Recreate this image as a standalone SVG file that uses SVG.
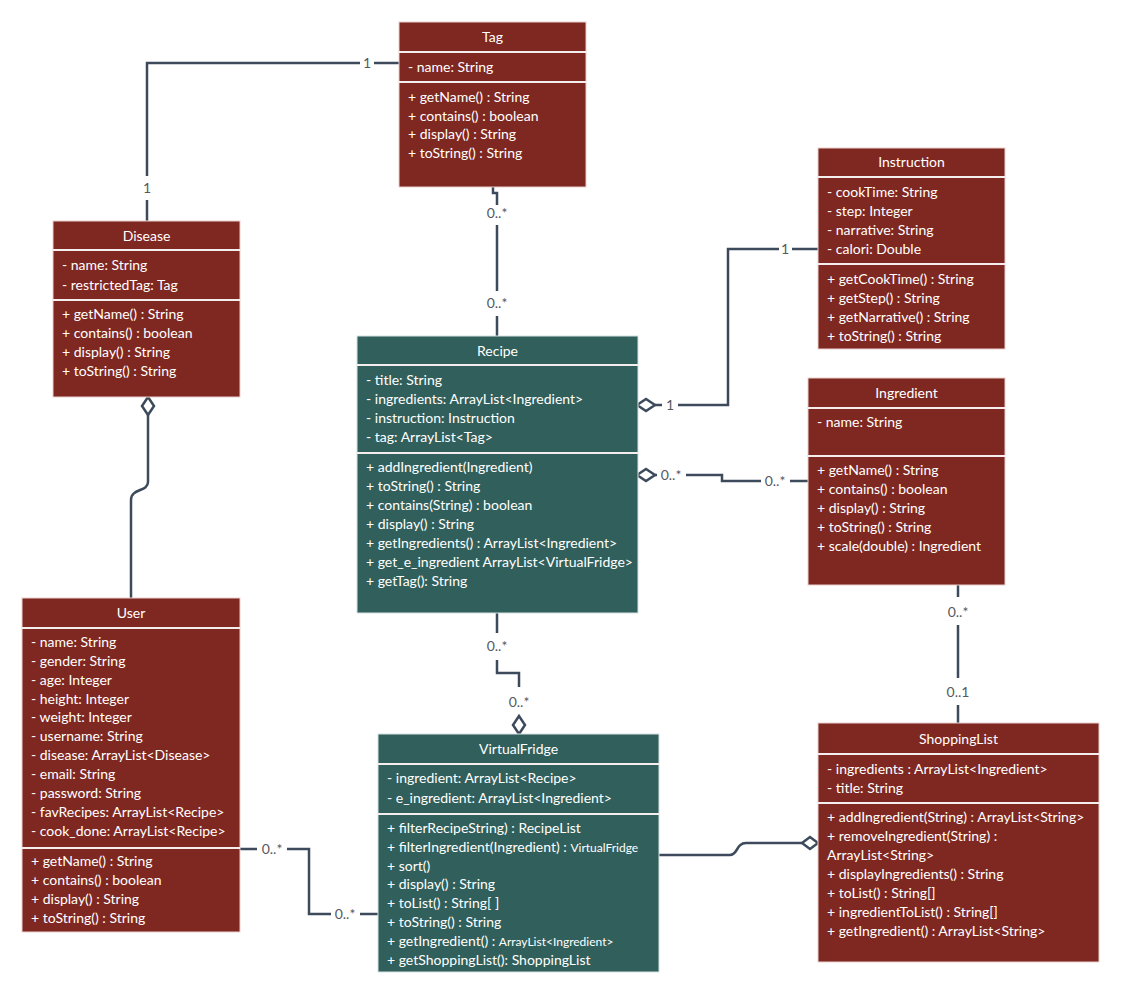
<svg xmlns="http://www.w3.org/2000/svg" width="1121" height="996" viewBox="0 0 1121 996">
  <style>
    .red { fill: #7f2821; stroke: #e9cfcc; stroke-width: 1; }
    .teal { fill: #31605c; stroke: #d5e2e0; stroke-width: 1; }
    .sep { stroke: #f4eeee; stroke-width: 2; }
    .t { font-family: Lato, "Open Sans", sans-serif; font-size: 14px; fill: #ffffff; }
    .h { font-family: Lato, "Open Sans", sans-serif; font-size: 14px; fill: #ffffff; text-anchor: middle; }
    .sm { font-size: 12px; }
    .lbl { font-family: Lato, "Open Sans", sans-serif; font-size: 14px; fill: #555a60; text-anchor: middle; }
    .c { fill: none; stroke: #3c4a5b; stroke-width: 2.5; }
    .dia { fill: #ffffff; stroke: #3c4a5b; stroke-width: 2.5; stroke-linejoin: miter; }
  </style>
  <rect width="1121" height="996" fill="#ffffff"/>

  <!-- associations -->
  <g id="connectors">
    <!-- Tag - Disease -->
    <path class="c" d="M399,63 H374 M360,63 H147 V176 M147,200 V221"/>
    <text class="lbl" x="367" y="68">1</text>
    <text class="lbl" x="147" y="193">1</text>

    <!-- Tag - Recipe -->
    <path class="c" d="M493,187 V193 H497 V205 M497,225 V291 M497,316 V336"/>
    <text class="lbl" x="497" y="218">0..*</text>
    <text class="lbl" x="497" y="308">0..*</text>

    <!-- Instruction - Recipe -->
    <path class="c" d="M818,249 H792 M779,249 H728 V405 H678 M662,405 H655"/>
    <text class="lbl" x="785" y="254">1</text>
    <text class="lbl" x="670" y="410">1</text>
    <polygon class="dia" points="637,405 646,399 655,405 646,411"/>

    <!-- Recipe - Ingredient -->
    <path class="c" d="M686,475 H722 V481 H761 M790,481 H808"/>
    <path class="c" d="M655,475 H657"/>
    <text class="lbl" x="671" y="480">0..*</text>
    <text class="lbl" x="775" y="486">0..*</text>
    <polygon class="dia" points="637,475 646,469 655,475 646,481"/>

    <!-- Recipe - VirtualFridge -->
    <path class="c" d="M497,613 V633 M497,660 V673 H519 V687"/>
    <text class="lbl" x="497" y="651">0..*</text>
    <text class="lbl" x="519" y="707">0..*</text>
    <polygon class="dia" points="519,734 525,725 519,716 513,725"/>

    <!-- Ingredient - ShoppingList -->
    <path class="c" d="M958,585 V597 M958,625 V678 M958,705 V723"/>
    <text class="lbl" x="958" y="617">0..*</text>
    <text class="lbl" x="958" y="697">0..1</text>

    <!-- Disease - User -->
    <path class="c" d="M148,415 V482 C148,492 131,488 131,500 V598"/>
    <polygon class="dia" points="148,397 154,406 148,415 142,406"/>

    <!-- User - VirtualFridge -->
    <path class="c" d="M240,849 H257 M287,849 H309 V914 H331 M360,914 H378"/>
    <text class="lbl" x="272" y="854">0..*</text>
    <text class="lbl" x="345" y="919">0..*</text>

    <!-- VirtualFridge - ShoppingList -->
    <path class="c" d="M659,855 H730 C738,855 736,843 746,843 H802"/>
    <polygon class="dia" points="818,843 810,837 802,843 810,849"/>
  </g>

  <g id="tag">
    <rect class="red" x="399" y="22" width="187" height="165"/>
    <line class="sep" x1="399" y1="52" x2="586" y2="52"/>
    <line class="sep" x1="399" y1="82" x2="586" y2="82"/>
    <text class="h" x="492.5" y="42">Tag</text>
    <text class="t" x="408" y="72">- name: String</text>
    <text class="t" x="408" y="102">+ getName() : String</text>
    <text class="t" x="408" y="121">+ contains() : boolean</text>
    <text class="t" x="408" y="139">+ display() : String</text>
    <text class="t" x="408" y="158">+ toString() : String</text>
  </g>

  <g id="disease">
    <rect class="red" x="53" y="221" width="187" height="176"/>
    <line class="sep" x1="53" y1="250" x2="240" y2="250"/>
    <line class="sep" x1="53" y1="300" x2="240" y2="300"/>
    <text class="h" x="146.5" y="241">Disease</text>
    <text class="t" x="62" y="270">- name: String</text>
    <text class="t" x="62" y="290">- restrictedTag: Tag</text>
    <text class="t" x="62" y="319">+ getName() : String</text>
    <text class="t" x="62" y="338">+ contains() : boolean</text>
    <text class="t" x="62" y="357">+ display() : String</text>
    <text class="t" x="62" y="376">+ toString() : String</text>
  </g>

  <g id="instruction">
    <rect class="red" x="818" y="148" width="187" height="201"/>
    <line class="sep" x1="818" y1="177" x2="1005" y2="177"/>
    <line class="sep" x1="818" y1="264" x2="1005" y2="264"/>
    <text class="h" x="911.5" y="167">Instruction</text>
    <text class="t" x="827" y="197">- cookTime: String</text>
    <text class="t" x="827" y="216">- step: Integer</text>
    <text class="t" x="827" y="235">- narrative: String</text>
    <text class="t" x="827" y="254">- calori: Double</text>
    <text class="t" x="827" y="284">+ getCookTime() : String</text>
    <text class="t" x="827" y="303">+ getStep() : String</text>
    <text class="t" x="827" y="322">+ getNarrative() : String</text>
    <text class="t" x="827" y="341">+ toString() : String</text>
  </g>

  <g id="recipe">
    <rect class="teal" x="357" y="336" width="281" height="277"/>
    <line class="sep" x1="357" y1="365" x2="638" y2="365"/>
    <line class="sep" x1="357" y1="453" x2="638" y2="453"/>
    <text class="h" x="497.5" y="356">Recipe</text>
    <text class="t" x="366" y="385">- title: String</text>
    <text class="t" x="366" y="404">- ingredients: ArrayList&lt;Ingredient&gt;</text>
    <text class="t" x="366" y="423">- instruction: Instruction</text>
    <text class="t" x="366" y="442">- tag: ArrayList&lt;Tag&gt;</text>
    <text class="t" x="366" y="472">+ addIngredient(Ingredient)</text>
    <text class="t" x="366" y="491">+ toString() : String</text>
    <text class="t" x="366" y="510">+ contains(String) : boolean</text>
    <text class="t" x="366" y="529">+ display() : String</text>
    <text class="t" x="366" y="548">+ getIngredients() : ArrayList&lt;Ingredient&gt;</text>
    <text class="t" x="366" y="567">+ get_e_ingredient ArrayList&lt;VirtualFridge&gt;</text>
    <text class="t" x="366" y="586">+ getTag(): String</text>
  </g>

  <g id="ingredient">
    <rect class="red" x="808" y="378" width="197" height="207"/>
    <line class="sep" x1="808" y1="408" x2="1005" y2="408"/>
    <line class="sep" x1="808" y1="456" x2="1005" y2="456"/>
    <text class="h" x="906.5" y="398">Ingredient</text>
    <text class="t" x="817" y="427">- name: String</text>
    <text class="t" x="817" y="475">+ getName() : String</text>
    <text class="t" x="817" y="494">+ contains() : boolean</text>
    <text class="t" x="817" y="513">+ display() : String</text>
    <text class="t" x="817" y="532">+ toString() : String</text>
    <text class="t" x="817" y="551">+ scale(double) : Ingredient</text>
  </g>

  <g id="user">
    <rect class="red" x="22" y="598" width="218" height="334"/>
    <line class="sep" x1="22" y1="628" x2="240" y2="628"/>
    <line class="sep" x1="22" y1="848" x2="240" y2="848"/>
    <text class="h" x="131" y="618">User</text>
    <text class="t" x="31" y="647">- name: String</text>
    <text class="t" x="31" y="666">- gender: String</text>
    <text class="t" x="31" y="685">- age: Integer</text>
    <text class="t" x="31" y="704">- height: Integer</text>
    <text class="t" x="31" y="722">- weight: Integer</text>
    <text class="t" x="31" y="741">- username: String</text>
    <text class="t" x="31" y="760">- disease: ArrayList&lt;Disease&gt;</text>
    <text class="t" x="31" y="779">- email: String</text>
    <text class="t" x="31" y="798">- password: String</text>
    <text class="t" x="31" y="817">- favRecipes: ArrayList&lt;Recipe&gt;</text>
    <text class="t" x="31" y="836">- cook_done: ArrayList&lt;Recipe&gt;</text>
    <text class="t" x="31" y="866">+ getName() : String</text>
    <text class="t" x="31" y="885">+ contains() : boolean</text>
    <text class="t" x="31" y="904">+ display() : String</text>
    <text class="t" x="31" y="923">+ toString() : String</text>
  </g>

  <g id="virtualfridge">
    <rect class="teal" x="378" y="734" width="281" height="238"/>
    <line class="sep" x1="378" y1="764" x2="659" y2="764"/>
    <line class="sep" x1="378" y1="814" x2="659" y2="814"/>
    <text class="h" x="518.5" y="754">VirtualFridge</text>
    <text class="t" x="387" y="783">- ingredient: ArrayList&lt;Recipe&gt;</text>
    <text class="t" x="387" y="803">- e_ingredient: ArrayList&lt;Ingredient&gt;</text>
    <text class="t" x="387" y="833">+ filterRecipeString) : RecipeList</text>
    <text class="t" x="387" y="852">+ filterIngredient(Ingredient) : <tspan class="sm">VirtualFridge</tspan></text>
    <text class="t" x="387" y="871">+ sort()</text>
    <text class="t" x="387" y="889">+ display() : String</text>
    <text class="t" x="387" y="908">+ toList() : String[ ]</text>
    <text class="t" x="387" y="927">+ toString() : String</text>
    <text class="t" x="387" y="946">+ getIngredient() : <tspan class="sm">ArrayList&lt;Ingredient&gt;</tspan></text>
    <text class="t" x="387" y="965">+ getShoppingList(): ShoppingList</text>
  </g>

  <g id="shoppinglist">
    <rect class="red" x="818" y="723" width="281" height="239"/>
    <line class="sep" x1="818" y1="754" x2="1099" y2="754"/>
    <line class="sep" x1="818" y1="803" x2="1099" y2="803"/>
    <text class="h" x="958.5" y="744">ShoppingList</text>
    <text class="t" x="827" y="774">- ingredients : ArrayList&lt;Ingredient&gt;</text>
    <text class="t" x="827" y="793">- title: String</text>
    <text class="t" x="827" y="822">+ addIngredient(String) : ArrayList&lt;String&gt;</text>
    <text class="t" x="827" y="841">+ removeIngredient(String) :</text>
    <text class="t" x="827" y="860">ArrayList&lt;String&gt;</text>
    <text class="t" x="827" y="879">+ displayIngredients() : String</text>
    <text class="t" x="827" y="898">+ toList() : String[]</text>
    <text class="t" x="827" y="917">+ ingredientToList() : String[]</text>
    <text class="t" x="827" y="936">+ getIngredient() : ArrayList&lt;String&gt;</text>
  </g>
</svg>
